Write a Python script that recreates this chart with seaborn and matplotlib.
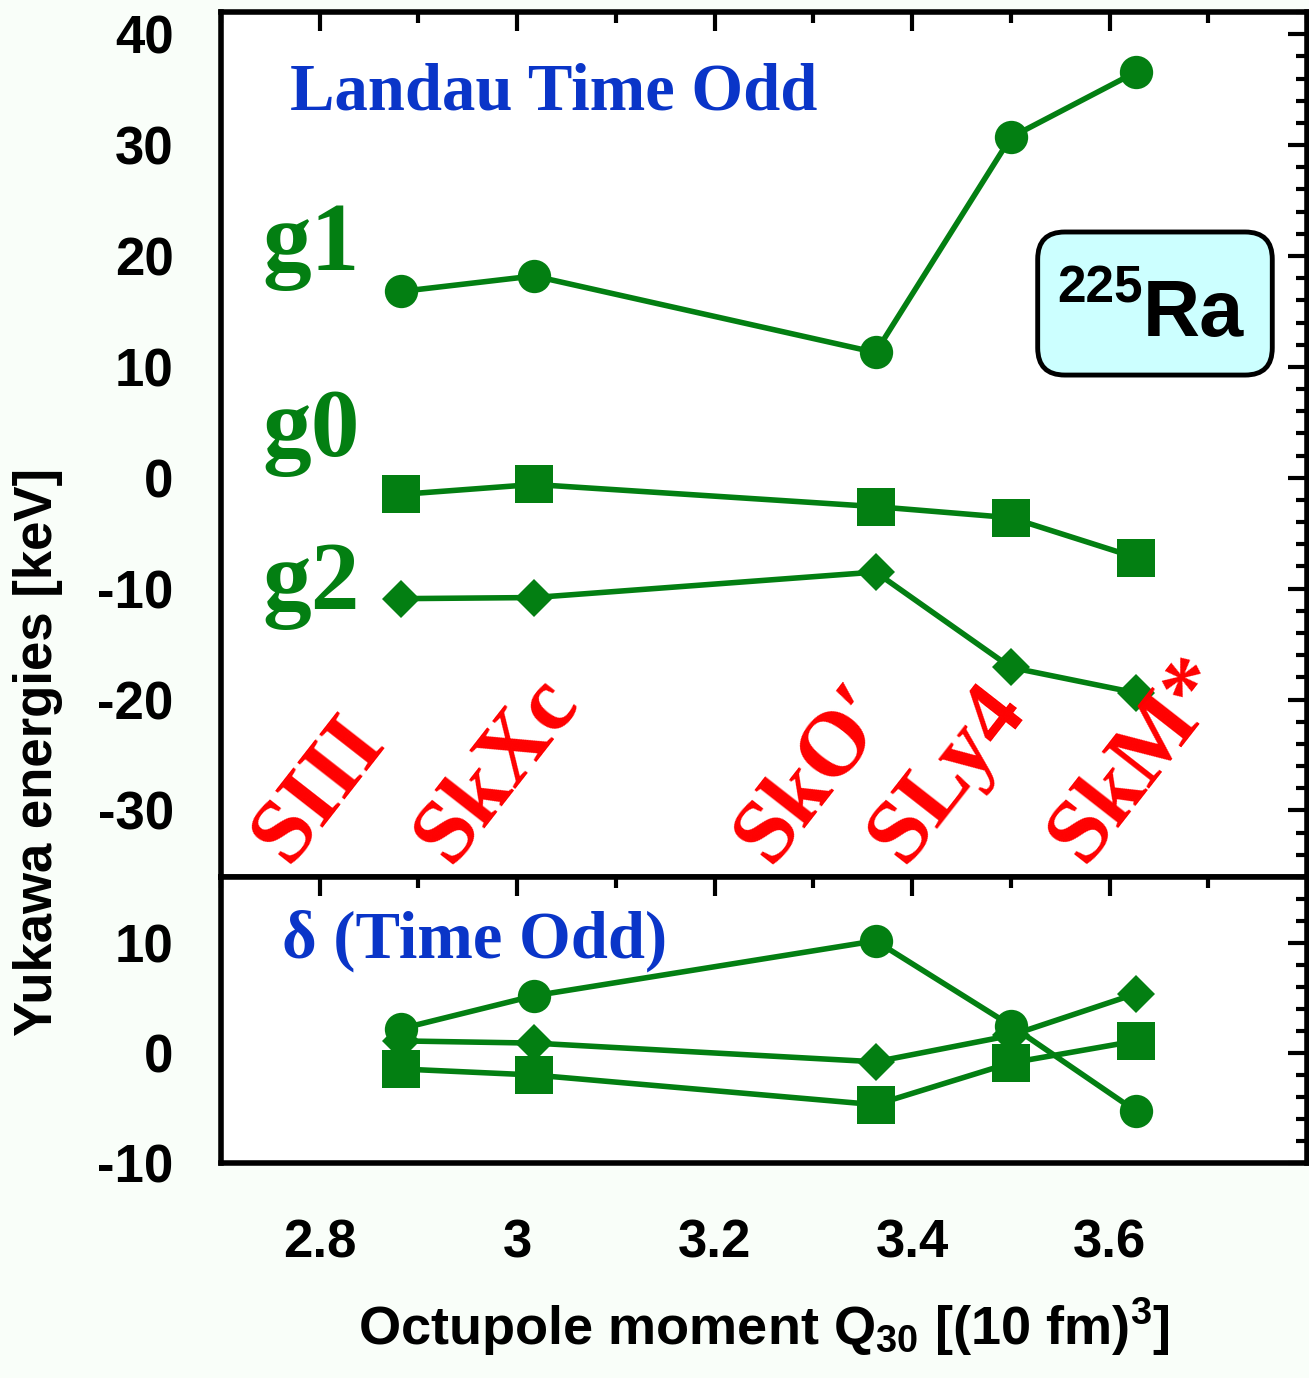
import matplotlib
matplotlib.use("Agg")
import matplotlib.pyplot as plt
import seaborn as sns
from matplotlib.patches import FancyBboxPatch
from matplotlib.ticker import MultipleLocator, StrMethodFormatter

# octupole moments of the five Skyrme forces
q30 = [2.882, 3.017, 3.363, 3.500, 3.627]
forces = ["SIII", "SkXc", "SkO′", "SLy4", "SkM*"]
force_x = [2.768, 2.932, 3.256, 3.392, 3.574]
xticks = [2.8, 3.0, 3.2, 3.4, 3.6]

# Landau time-odd Yukawa energies [keV]
g1 = [16.8, 18.2, 11.3, 30.7, 36.6]
g0 = [-1.5, -0.6, -2.6, -3.6, -7.2]
g2 = [-10.9, -10.8, -8.5, -17.1, -19.4]

# delta (time odd) [keV]
d_circ = [2.2, 5.2, 10.2, 2.5, -5.3]
d_diam = [1.1, 0.9, -0.8, 1.6, 5.4]
d_sq = [-1.45, -2.0, -4.7, -0.9, 1.1]

green = "#037f12"
blue = "#0a35c8"
serif = ["Liberation Serif", "DejaVu Serif"]

sns.set_style("white")
plt.rcParams["font.family"] = ["Liberation Sans", "DejaVu Sans"]
plt.rcParams["font.weight"] = "bold"
plt.rcParams["text.color"] = "black"
plt.rcParams["axes.labelcolor"] = "black"
plt.rcParams["xtick.color"] = "black"
plt.rcParams["ytick.color"] = "black"
plt.rcParams["axes.unicode_minus"] = False
plt.rcParams["mathtext.fontset"] = "custom"
plt.rcParams["mathtext.rm"] = "Liberation Sans:bold"
plt.rcParams["mathtext.bf"] = "Liberation Sans:bold"
plt.rcParams["mathtext.it"] = "Liberation Sans:bold"

fig = plt.figure(figsize=(13.09, 13.78), dpi=100, facecolor="#f9fef9")
ax_top = fig.add_axes([0.1688, 0.36357, 0.8297, 0.6277])
ax_bot = fig.add_axes([0.1688, 0.15602, 0.8297, 0.20755])

line_kw = dict(color=green, linewidth=4, markeredgewidth=0)
sns.lineplot(x=q30, y=g1, ax=ax_top, marker="o", markersize=24, **line_kw)
sns.lineplot(x=q30, y=g0, ax=ax_top, marker="s", markersize=27, **line_kw)
sns.lineplot(x=q30, y=g2, ax=ax_top, marker="D", markersize=19, **line_kw)

sns.lineplot(x=q30, y=d_circ, ax=ax_bot, marker="o", markersize=24, **line_kw)
sns.lineplot(x=q30, y=d_diam, ax=ax_bot, marker="D", markersize=19, **line_kw)
sns.lineplot(x=q30, y=d_sq, ax=ax_bot, marker="s", markersize=27, **line_kw)

ax_top.set_ylim(-36, 42)
ax_bot.set_ylim(-10, 16)
for ax in (ax_top, ax_bot):
    ax.set_facecolor("white")
    ax.set_xlim(2.7, 3.8)
    ax.set_xticks(xticks)
    ax.xaxis.set_minor_locator(MultipleLocator(0.1))
    ax.yaxis.set_major_locator(MultipleLocator(10))
    ax.yaxis.set_minor_locator(MultipleLocator(2))
    ax.tick_params(which="both", direction="in", top=True, right=True,
                   width=3, labelsize=38, color="black")
    ax.tick_params(which="major", length=14)
    ax.tick_params(which="minor", length=8)
    ax.tick_params(axis="x", pad=40)
    ax.tick_params(axis="y", pad=34)
    for s in ax.spines.values():
        s.set_linewidth(4)
        s.set_color("black")
    ax.set_xlabel("")
    ax.set_ylabel("")

ax_top.tick_params(axis="x", labelbottom=False)
ax_bot.xaxis.set_major_formatter(StrMethodFormatter("{x:g}"))

ax_bot.set_xlabel(r"Octupole moment Q$_{30}$ [(10 fm)$^{3}$]", fontsize=39,
                  fontweight="bold", labelpad=20)
fig.text(0.029, 0.4543, "Yukawa energies [keV]", rotation=90, fontsize=38,
         fontweight="bold", ha="center", va="center")

ax_top.text(2.77, 33.2, "Landau Time Odd", color=blue, fontsize=48,
            family=serif, fontweight="bold")
ax_bot.text(2.762, 8.7, "δ (Time Odd)", color=blue, fontsize=48,
            family=serif, fontweight="bold")

for name, y in zip(["g1", "g0", "g2"], [18.7, 2.0, -11.8]):
    ax_top.text(2.742, y, name, color=green, fontsize=70, family=serif,
                fontweight="bold")

for name, x in zip(forces, force_x):
    ax_top.text(x, -35.0, name, color="red", fontsize=66, family=serif,
                fontweight="bold", rotation=52, rotation_mode="anchor",
                ha="left", va="baseline")

box = FancyBboxPatch((0.752, 0.5803), 0.216, 0.1654,
                     boxstyle="round,pad=0,rounding_size=0.025",
                     mutation_aspect=1086 / 865, transform=ax_top.transAxes,
                     facecolor="#ccffff", edgecolor="black", linewidth=3.5,
                     zorder=5)
ax_top.add_patch(box)
ax_top.text(0.8485, 0.664, "225", transform=ax_top.transAxes, fontsize=37,
            fontweight="bold", ha="right", va="baseline", zorder=6)
ax_top.text(0.849, 0.625, "Ra", transform=ax_top.transAxes, fontsize=57,
            fontweight="bold", ha="left", va="baseline", zorder=6)

fig.savefig("out.png", dpi=100, facecolor=fig.get_facecolor())
